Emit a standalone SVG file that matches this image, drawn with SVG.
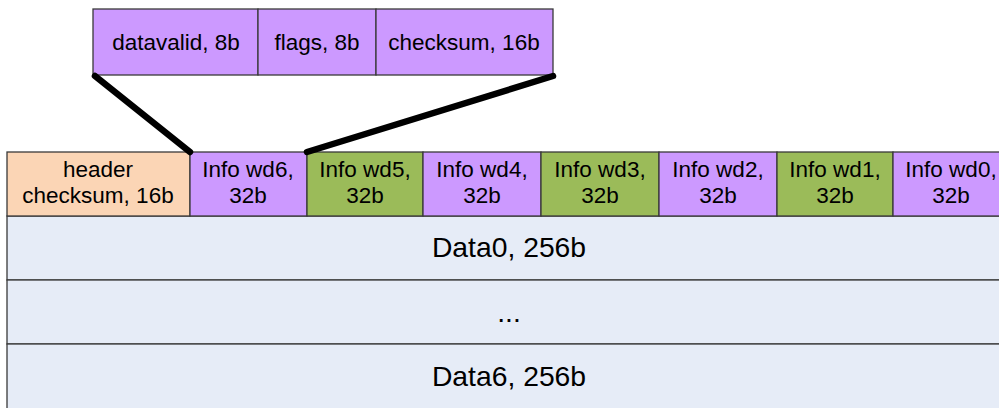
<svg xmlns="http://www.w3.org/2000/svg" width="999" height="408" viewBox="0 0 999 408">
<style>
text{font-family:"Liberation Sans",Arial,sans-serif;fill:#000;text-anchor:middle}
.c{font-size:22.5px}
.d{font-size:28.3px}
.p{fill:#CC99FF}
.g{fill:#9BBB59}
.h{fill:#FBD5B5}
.b{fill:#E6ECF7}
.box{stroke:#3A3A3A;stroke-width:1.3}
.conn{stroke:#000;stroke-width:6.5;stroke-linecap:round;fill:none}
</style>
<rect width="999" height="408" fill="#fff"/>
<g id="data0"><rect class="box b" x="7" y="216" width="1010" height="64"/><text class="d" x="509" y="257">Data0, 256b</text></g>
<g id="dataMid"><rect class="box b" x="7" y="280" width="1010" height="64"/><text class="d" x="509" y="322">...</text></g>
<g id="data6"><rect class="box b" x="7" y="344" width="1010" height="70"/><text class="d" x="509" y="386">Data6, 256b</text></g>
<g id="header"><rect class="box h" x="7" y="152" width="183" height="64"/><text class="c" x="98" y="177">header</text><text class="c" x="98" y="203">checksum, 16b</text></g>
<g id="wd6"><rect class="box p" x="190" y="152" width="117" height="64"/><text class="c" x="248" y="177">Info wd6,</text><text class="c" x="248" y="203">32b</text></g>
<g id="wd5"><rect class="box g" x="307" y="152" width="116" height="64"/><text class="c" x="365" y="177">Info wd5,</text><text class="c" x="365" y="203">32b</text></g>
<g id="wd4"><rect class="box p" x="423" y="152" width="118" height="64"/><text class="c" x="482" y="177">Info wd4,</text><text class="c" x="482" y="203">32b</text></g>
<g id="wd3"><rect class="box g" x="541" y="152" width="118" height="64"/><text class="c" x="600" y="177">Info wd3,</text><text class="c" x="600" y="203">32b</text></g>
<g id="wd2"><rect class="box p" x="659" y="152" width="118" height="64"/><text class="c" x="718" y="177">Info wd2,</text><text class="c" x="718" y="203">32b</text></g>
<g id="wd1"><rect class="box g" x="777" y="152" width="116" height="64"/><text class="c" x="835" y="177">Info wd1,</text><text class="c" x="835" y="203">32b</text></g>
<g id="wd0"><rect class="box p" x="893" y="152" width="117" height="64"/><text class="c" x="951" y="177">Info wd0,</text><text class="c" x="951" y="203">32b</text></g>
<g id="datavalid"><rect class="box p" x="93" y="9" width="165" height="66"/><text class="c" x="176" y="50">datavalid, 8b</text></g>
<g id="flags"><rect class="box p" x="258" y="9" width="118" height="66"/><text class="c" x="317" y="50">flags, 8b</text></g>
<g id="checksum"><rect class="box p" x="376" y="9" width="177" height="66"/><text class="c" x="464" y="50">checksum, 16b</text></g>
<g id="connectors">
<line class="conn" x1="95" y1="76" x2="190" y2="152"/>
<line class="conn" x1="553" y1="76" x2="307" y2="152"/>
</g>
</svg>
